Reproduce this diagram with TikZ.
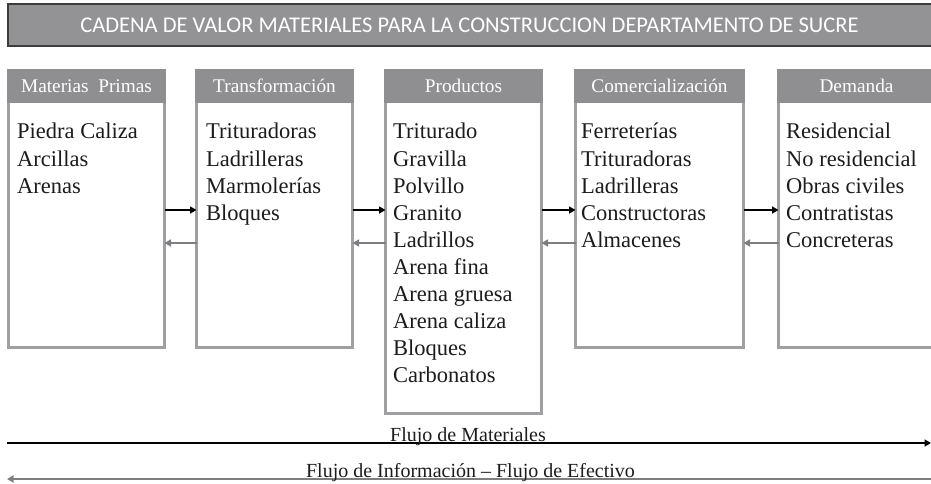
\documentclass[tikz,border=0pt]{standalone}
\usepackage{fontspec}
\setmainfont{Liberation Serif}
\newfontfamily\titlefont{Carlito}
\usetikzlibrary{arrows.meta}
\definecolor{hdrgray}{HTML}{8F8F91}
\definecolor{bordgray}{HTML}{A0A0A2}
\definecolor{titlegray}{HTML}{939396}
\definecolor{titlebord}{HTML}{3C3C3C}
\definecolor{backgray}{HTML}{7E7E80}
\definecolor{inkgray}{HTML}{1C1C1C}
\begin{document}
\begin{tikzpicture}[x=1pt,y=-1pt,
  panel/.style={draw=bordgray, line width=3pt, fill=white, inner sep=0pt, outer sep=0pt, anchor=north west},
  hdrband/.style={fill=hdrgray},
  hdrtext/.style={text=white, font=\fontsize{19.3}{21}\selectfont, inner sep=0pt, anchor=base},
  bodytext/.style={text=inkgray, font=\fontsize{22.5}{27}\selectfont, inner sep=0pt, anchor=base west},
  fwd/.style={draw=black, line width=2.2pt, -{Triangle[length=6.5pt,width=7pt]}},
  back/.style={draw=backgray, line width=2.2pt, -{Triangle[length=6.5pt,width=7pt]}},
  flowtext/.style={text=inkgray, font=\fontsize{20}{22}\selectfont, inner sep=0pt, anchor=base}
]
\useasboundingbox (0,0) rectangle (931,484);

% title bar
\node[draw=titlebord, line width=1.6pt, fill=titlegray, inner sep=0pt, outer sep=0pt,
      minimum width=930pt, minimum height=42pt, anchor=north west] (title) at (7.8,4.2) {};
\node[text=white, font=\titlefont\fontsize{22.5}{24}\selectfont, inner sep=0pt, anchor=base] (titletxt) at (469.5,33)
  {CADENA DE VALOR MATERIALES PARA LA CONSTRUCCION DEPARTAMENTO DE SUCRE};

% panels
\node[panel, minimum width=156pt, minimum height=277pt] (mp) at (8.5,70.5) {};
\node[panel, minimum width=156pt, minimum height=277pt] (tr) at (196.5,70.5) {};
\node[panel, minimum width=156pt, minimum height=343pt] (pr) at (385.5,70.5) {};
\node[panel, minimum width=168pt, minimum height=277pt] (co) at (575.5,70.5) {};
\node[panel, minimum width=160pt, minimum height=277pt] (de) at (778.5,70.5) {};

% header bands
\fill[hdrband] (7,69) rectangle (166,103);
\fill[hdrband] (195,69) rectangle (354,103);
\fill[hdrband] (384,69) rectangle (543,103);
\fill[hdrband] (574,69) rectangle (745,103);
\fill[hdrband] (777,69) rectangle (940,103);

\node[hdrtext] (mph) at (86.5,93) {Materias\ \ Primas};
\node[hdrtext] (trh) at (274.5,93) {Transformación};
\node[hdrtext] (prh) at (463.5,93) {Productos};
\node[hdrtext] (coh) at (659.5,93) {Comercialización};
\node[hdrtext] (deh) at (856.5,93) {Demanda};

% body lists
\foreach \t [count=\i from 0] in {Piedra Caliza, Arcillas, Arenas}
  \node[bodytext] (mp-\i) at (17,139+27*\i) {\t};
\foreach \t [count=\i from 0] in {Trituradoras, Ladrilleras, Marmolerías, Bloques}
  \node[bodytext] (tr-\i) at (206,139+27*\i) {\t};
\foreach \t [count=\i from 0] in {Triturado, Gravilla, Polvillo, Granito, Ladrillos, Arena fina, Arena gruesa, Arena caliza, Bloques, Carbonatos}
  \node[bodytext] (pr-\i) at (393,139+27*\i) {\t};
\foreach \t [count=\i from 0] in {Ferreterías, Trituradoras, Ladrilleras, Constructoras, Almacenes}
  \node[bodytext] (co-\i) at (581,139+27*\i) {\t};
\foreach \t [count=\i from 0] in {Residencial, No residencial, Obras civiles, Contratistas, Concreteras}
  \node[bodytext] (de-\i) at (786,139+27*\i) {\t};

% connectors between panels
\coordinate (yf) at (0,210);
\coordinate (yb) at (0,243);
\draw[fwd] (mp.east |- yf) -- (tr.west |- yf);
\draw[fwd] (tr.east |- yf) -- (pr.west |- yf);
\draw[fwd] (pr.east |- yf) -- (co.west |- yf);
\draw[fwd] (co.east |- yf) -- (de.west |- yf);
\draw[back] (tr.west |- yb) -- (mp.east |- yb);
\draw[back] (pr.west |- yb) -- (tr.east |- yb);
\draw[back] (co.west |- yb) -- (pr.east |- yb);
\draw[back] (de.west |- yb) -- (co.east |- yb);

% flows at the bottom
\coordinate (matL) at (7,443);
\coordinate (matR) at (931,443);
\coordinate (infL) at (7,479);
\coordinate (infR) at (931,479);
\draw[fwd] (matL) -- (matR);
\draw[back, line width=2.4pt] (infR) -- (infL);
\node[flowtext] (mattxt) at (468,441) {Flujo de Materiales};
\node[flowtext] (inftxt) at (470.5,477) {Flujo de Información -- Flujo de Efectivo};
\end{tikzpicture}
\end{document}
